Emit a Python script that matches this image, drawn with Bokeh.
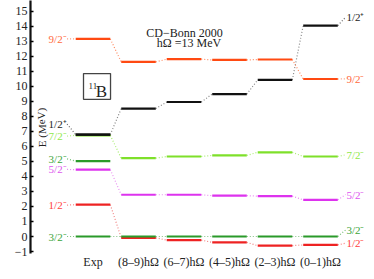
from bokeh.plotting import figure
from bokeh.models import Range1d, FixedTicker, Label
from bokeh.core.properties import value
from bokeh.embed import file_html
from bokeh.resources import INLINE

# ---- data ----
columns = ["Exp", "(8\u20139)h\u03a9", "(6\u20137)h\u03a9", "(4\u20135)h\u03a9", "(2\u20133)h\u03a9", "(0\u20131)h\u03a9"]
col_x = [0, 1, 2, 3, 4, 5]

e_9_2m = [13.16, 11.63, 11.81, 11.76, 11.79, 10.49]
e_1_2p = [6.79, 8.52, 8.96, 9.49, 10.43, 14.05]
e_7_2m = [6.74, 5.22, 5.33, 5.40, 5.61, 5.33]
e_3_2m = [0.0, 0.0, 0.0, 0.0, 0.0, 0.0]
e_5_2m = [4.45, 2.78, 2.78, 2.72, 2.69, 2.44]
e_1_2m = [2.12, -0.09, -0.24, -0.39, -0.61, -0.56]
e_3_2m_exp2 = [5.02]

y_ticks = list(range(-1, 16))

left_labels = ["9/2\u207b", "1/2\u207a", "7/2\u207b", "3/2\u207b", "5/2\u207b", "1/2\u207b", "3/2\u207b"]
left_label_e = [13.17, 7.49, 6.69, 5.17, 4.47, 2.09, 0.0]
left_bar_e = [13.16, 6.79, 6.74, 5.02, 4.45, 2.12, 0.0]
left_colors = ["#ff6a3d", "#222222", "#8fe84a", "#3aa53a", "#dd55ee", "#ff4040", "#3aa53a"]

right_labels = ["1/2\u207a", "9/2\u207b", "7/2\u207b", "5/2\u207b", "3/2\u207b", "1/2\u207b"]
right_label_e = [14.60, 10.50, 5.44, 2.79, 0.43, -0.45]
right_bar_e = [14.05, 10.49, 5.33, 2.44, 0.0, -0.56]
right_colors = ["#222222", "#ff6a3d", "#8fe84a", "#dd55ee", "#3aa53a", "#ff4040"]

# ---- figure ----
SERIF = value("Liberation Serif")
HW = 0.38

p = figure(width=366, height=271, output_backend="svg", toolbar_location=None,
           x_range=Range1d(-1.374, 6.011), y_range=Range1d(-1.132, 15.72),
           min_border_left=30, min_border_right=0, min_border_top=0, min_border_bottom=15)
p.grid.visible = False
p.outline_line_color = None
p.background_fill_color = "white"

# y axis
ya = p.yaxis[0]
ya.ticker = FixedTicker(ticks=y_ticks)
ya.major_label_overrides = {-1: "\u22121"}
ya.axis_line_width = 2.2
ya.axis_line_color = "#111111"
ya.major_tick_in = 3
ya.major_tick_out = 0
ya.major_tick_line_width = 1.5
ya.minor_tick_line_color = None
ya.minor_tick_in = 0
ya.minor_tick_out = 0
ya.major_label_text_font = "Liberation Serif"
ya.major_label_text_font_size = "12px"
ya.major_label_text_color = "#222222"
ya.major_label_standoff = 3
ya.axis_label_standoff = 0

# x axis
xa = p.xaxis[0]
xa.ticker = FixedTicker(ticks=col_x)
xa.major_label_overrides = {i: c for i, c in zip(col_x, columns)}
xa.axis_line_color = None
xa.major_tick_line_color = None
xa.minor_tick_line_color = None
xa.major_tick_in = 0
xa.major_tick_out = 0
xa.minor_tick_in = 0
xa.minor_tick_out = 0
xa.major_label_text_font = "Liberation Serif"
xa.major_label_text_font_size = "12px"
xa.major_label_text_color = "#222222"
xa.major_label_standoff = 1
xa.axis_label_standoff = 0

series = [
    (e_7_2m, "#7ee02a", "#a8ee70"),
    (e_1_2p, "#111111", "#888888"),
    (e_9_2m, "#ff4a12", "#ff8a60"),
    (e_5_2m, "#dd33ee", "#e88af0"),
    (e_1_2m, "#ee2222", "#f08080"),
    (e_3_2m, "#2a9a2a", "#80c080"),
]

# connectors between columns
for ev, col, lc in series:
    p.segment(x0=[x + HW for x in col_x[:-1]], y0=ev[:-1],
              x1=[x + 1 - HW for x in col_x[:-1]], y1=ev[1:],
              line_color=lc, line_width=1.2, line_dash="1 2")

# left label connectors
p.segment(x0=[-0.57] * len(left_labels), y0=left_label_e, x1=[-HW] * len(left_labels), y1=left_bar_e,
          line_color=left_colors, line_width=1.2, line_dash="1 2", line_alpha=0.7)
# right label connectors
p.segment(x0=[5 + HW] * len(right_labels), y0=right_bar_e, x1=[5.55] * len(right_labels), y1=right_label_e,
          line_color=right_colors, line_width=1.2, line_dash="1 2", line_alpha=0.7)

# bars
for ev, col, lc in series:
    p.segment(x0=[x - HW for x in col_x], y0=ev, x1=[x + HW for x in col_x], y1=ev,
              line_color=col, line_width=2.2)
p.segment(x0=[-HW], y0=e_3_2m_exp2, x1=[HW], y1=e_3_2m_exp2, line_color="#2a9a2a", line_width=2.2)
# exp 1/2+ on top of 7/2-
p.segment(x0=[-HW], y0=[e_1_2p[0]], x1=[HW], y1=[e_1_2p[0]], line_color="#111111", line_width=2.2)

# level labels
p.text(x=[-0.58] * len(left_labels), y=left_label_e, text=left_labels, text_color=left_colors,
       text_font=SERIF, text_font_size="11px", text_align="right", text_baseline="middle")
p.text(x=[5.57] * len(right_labels), y=right_label_e, text=right_labels, text_color=right_colors,
       text_font=SERIF, text_font_size="11px", text_align="left", text_baseline="middle")

# title texts
p.text(x=[2.01], y=[13.55], text=["CD\u2212Bonn 2000"], text_font=SERIF, text_font_size="12px",
       text_color="#222222", text_align="center", text_baseline="middle")
p.text(x=[2.11], y=[12.87], text=["h\u03a9 =13 MeV"], text_font=SERIF, text_font_size="12px",
       text_color="#222222", text_align="center", text_baseline="middle")

# 11B box
p.quad(left=[-0.209], right=[0.385], bottom=[9.14], top=[10.85], fill_color=None,
       line_color="#444444", line_width=1.3)
p.text(x=[-0.10], y=[10.0], text=["11"], text_font=SERIF, text_font_size="9px",
       text_color="#222222", text_align="left", text_baseline="middle")
p.text(x=[0.058], y=[9.68], text=["B"], text_font=SERIF, text_font_size="17px",
       text_color="#222222", text_align="left", text_baseline="middle")

# y axis title
p.add_layout(Label(x=5, x_units="screen", y=7.26, text="E (MeV)", angle=1.5708,
                   text_font="Liberation Serif", text_font_size="11px", text_color="#222222",
                   text_align="center", text_baseline="top"))

open("out.html", "w").write(file_html(p, INLINE))
